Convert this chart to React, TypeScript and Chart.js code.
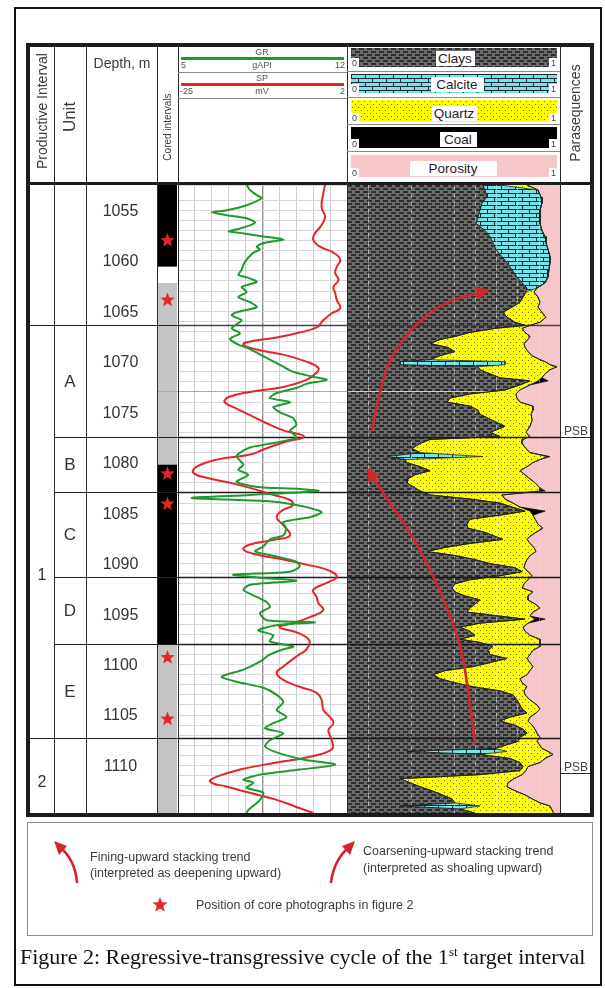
import React, { useEffect, useMemo, useRef } from 'react';
import { Chart, registerables } from 'chart.js';

Chart.register(...registerables);

// ---------------- data ----------------
const DEPTH_TOP = 1052.5;
const DEPTH_BASE = 1114.7;
const depthTicks = [1055, 1060, 1065, 1070, 1075, 1080, 1085, 1090, 1095, 1100, 1105, 1110];

const productiveIntervals = [
  { name: '', top: 1052.5, base: 1066.4, labelAt: 1059.0 },
  { name: '1', top: 1066.4, base: 1107.3, labelAt: 1091.1 },
  { name: '2', top: 1107.3, base: 1114.7, labelAt: 1111.6 },
];
const units = [
  { name: '', top: 1052.5, base: 1066.4 },
  { name: 'A', top: 1066.4, base: 1077.5 },
  { name: 'B', top: 1077.5, base: 1082.9 },
  { name: 'C', top: 1082.9, base: 1091.3 },
  { name: 'D', top: 1091.3, base: 1098.0 },
  { name: 'E', top: 1098.0, base: 1107.3 },
  { name: '', top: 1107.3, base: 1114.7 },
];
const subUnitLines = [1072.9];
const coredIntervals = [
  { top: 1052.5, base: 1060.6, kind: 'core' },
  { top: 1060.6, base: 1062.2, kind: 'none' },
  { top: 1062.2, base: 1080.2, kind: 'log' },
  { top: 1080.2, base: 1098.0, kind: 'core' },
  { top: 1098.0, base: 1114.7, kind: 'log' },
];
const corePhotoDepths = [1058.0, 1063.9, 1081.1, 1084.1, 1099.3, 1105.4];
const psbDepths = [1077.5, 1110.7];

// GR and SP, read in track grid divisions (0 = left edge, 10 = right edge)
const grDepth = [
  1052.5, 1053.0, 1053.5, 1053.8, 1054.5, 1055.0, 1055.2, 1055.5, 1055.8, 1056.2,
  1056.5, 1056.8, 1057.1, 1057.3, 1057.6, 1057.9, 1058.2, 1058.6, 1058.9, 1059.2,
  1059.9, 1060.4, 1060.9, 1061.4, 1061.7, 1062.1, 1062.6, 1063.1, 1063.6, 1064.1,
  1064.6, 1065.1, 1065.4, 1065.9, 1066.3, 1066.7, 1067.2, 1067.6, 1067.8, 1068.3,
  1068.6, 1069.1, 1069.8, 1070.5, 1071.0, 1071.5, 1071.8, 1072.2, 1072.6, 1073.1,
  1073.6, 1074.0, 1074.5, 1075.1, 1075.6, 1076.3, 1076.8, 1077.5, 1078.0, 1078.5,
  1079.0, 1079.4, 1080.2, 1080.7, 1081.2, 1081.9, 1082.4, 1082.6, 1082.8, 1083.2,
  1083.5, 1083.8, 1084.2, 1084.9, 1085.4, 1085.9, 1086.5, 1087.2, 1087.6, 1088.3,
  1088.8, 1089.3, 1089.8, 1090.3, 1090.8, 1091.1, 1091.4, 1091.7, 1092.1, 1092.6,
  1093.3, 1093.8, 1094.3, 1094.9, 1095.6, 1095.8, 1096.1, 1096.6, 1097.1, 1097.7,
  1098.2, 1098.5, 1099.0, 1099.7, 1100.5, 1101.2, 1101.7, 1102.3, 1103.0, 1103.7,
  1104.5, 1105.2, 1105.8, 1106.3, 1106.8, 1107.5, 1108.1, 1108.7, 1109.4, 1109.9,
  1110.4, 1110.9, 1111.4, 1111.7, 1112.2, 1112.7, 1113.4, 1113.7, 1114.4, 1114.7,
];
const gr = [
  4.06, 4.26, 4.66, 4.95, 4.06, 2.88, 2.0, 2.9, 4.06, 4.56,
  4.26, 3.67, 3.0, 3.9, 5.05, 6.23, 5.2, 4.66, 4.85, 4.46,
  4.06, 3.87, 3.77, 3.57, 4.16, 4.66, 3.77, 4.06, 3.57, 4.26,
  4.66, 3.47, 3.18, 3.77, 3.47, 3.18, 3.67, 3.18, 3.08, 3.57,
  4.06, 4.66, 5.44, 6.23, 6.82, 8.0, 8.8, 7.6, 7.0, 5.84,
  5.44, 6.63, 5.64, 6.13, 6.82, 7.0, 6.63, 7.0, 5.84, 4.26,
  3.67, 3.47, 3.87, 3.57, 4.16, 3.47, 4.66, 7.22, 8.3, 4.26,
  0.81, 5.24, 7.0, 8.5, 7.8, 6.23, 6.4, 6.23, 5.44, 5.05,
  4.56, 5.84, 7.0, 7.2, 6.63, 3.27, 4.85, 7.0, 4.26, 3.87,
  4.66, 5.24, 5.44, 4.85, 5.24, 8.1, 5.84, 4.75, 5.64, 5.44,
  6.82, 6.2, 5.44, 4.85, 3.87, 2.58, 3.47, 5.05, 5.84, 6.23,
  5.84, 6.43, 5.64, 5.15, 6.23, 5.44, 5.15, 5.84, 7.42, 9.3,
  7.2, 4.85, 3.87, 4.46, 4.06, 5.05, 4.85, 4.66, 4.16, 4.06,
];
const spDepth = [
  1052.5, 1053.3, 1054.7, 1055.7, 1056.7, 1057.3, 1057.9, 1058.6, 1059.2, 1059.9,
  1060.6, 1061.2, 1061.9, 1062.6, 1063.2, 1063.9, 1064.7, 1065.2, 1065.9, 1066.6,
  1067.1, 1067.6, 1068.0, 1068.3, 1068.8, 1069.3, 1070.0, 1070.6, 1071.1, 1071.8,
  1072.5, 1073.0, 1073.5, 1074.0, 1074.6, 1075.3, 1076.1, 1076.8, 1077.4, 1078.0,
  1078.7, 1079.2, 1079.7, 1080.4, 1081.0, 1081.5, 1082.0, 1082.5, 1083.2, 1083.7,
  1084.2, 1084.7, 1085.4, 1086.2, 1087.2, 1087.6, 1088.1, 1088.6, 1089.1, 1089.6,
  1090.1, 1090.6, 1091.3, 1091.9, 1092.6, 1093.3, 1093.9, 1094.6, 1095.3, 1095.9,
  1096.3, 1096.8, 1097.3, 1097.8, 1098.5, 1099.2, 1100.2, 1100.8, 1101.5, 1102.2,
  1102.8, 1103.5, 1104.5, 1105.2, 1105.8, 1106.5, 1107.5, 1108.4, 1109.2, 1109.7,
  1110.4, 1111.1, 1111.6, 1112.1, 1112.7, 1113.4, 1114.1, 1114.7,
];
const sp = [
  8.7, 8.6, 8.5, 8.7, 8.4, 8.1, 8.0, 8.4, 9.2, 9.6,
  9.4, 9.3, 9.5, 9.2, 9.3, 9.4, 9.6, 9.1, 8.6, 8.2,
  7.2, 5.84, 4.26, 3.87, 4.66, 6.23, 7.6, 8.3, 8.2, 7.6,
  6.23, 4.26, 3.0, 2.76, 3.4, 4.26, 5.24, 6.23, 7.45, 6.23,
  5.05, 4.26, 2.29, 1.1, 0.9, 1.7, 3.08, 4.26, 5.64, 6.63,
  6.8, 6.2, 5.84, 6.23, 6.63, 5.84, 4.26, 3.87, 4.66, 6.23,
  7.6, 8.8, 9.4, 8.8, 8.0, 8.2, 8.3, 8.6, 7.8, 6.8,
  6.0, 7.0, 7.6, 7.8, 7.6, 7.0, 6.23, 5.84, 6.2, 7.2,
  8.2, 8.5, 8.6, 9.0, 9.2, 8.9, 9.1, 9.1, 7.6, 5.84,
  3.67, 2.3, 1.9, 2.9, 4.26, 5.84, 7.0, 8.0,
];

// Lithology volume fractions (porosity = remainder to 1)
const litDepth = [
  1052.5, 1053.0, 1053.7, 1054.3, 1055.0, 1055.7, 1056.3, 1057.0, 1057.6, 1058.2,
  1058.9, 1059.6, 1060.2, 1060.9, 1061.6, 1062.2, 1062.7, 1063.1, 1063.6, 1064.1,
  1064.6, 1065.1, 1065.6, 1066.1, 1066.4, 1066.7, 1067.1, 1067.5, 1067.8, 1068.2,
  1068.6, 1069.0, 1069.4, 1069.8, 1070.0, 1070.3, 1070.5, 1070.8, 1071.2, 1071.6,
  1071.9, 1072.3, 1072.8, 1073.2, 1073.6, 1074.0, 1074.4, 1074.8, 1075.2, 1075.8,
  1076.4, 1077.0, 1077.4, 1077.7, 1078.1, 1078.6, 1079.0, 1079.4, 1079.7, 1080.0,
  1080.4, 1080.8, 1081.2, 1081.6, 1082.0, 1082.5, 1082.8, 1083.2, 1083.6, 1084.0,
  1084.4, 1084.8, 1085.2, 1085.6, 1086.1, 1086.5, 1086.9, 1087.3, 1087.6, 1088.0,
  1088.4, 1088.8, 1089.2, 1089.6, 1090.0, 1090.4, 1090.8, 1091.2, 1091.6, 1092.0,
  1092.4, 1092.8, 1093.2, 1093.6, 1094.0, 1094.4, 1094.8, 1095.2, 1095.5, 1095.9,
  1096.3, 1096.7, 1097.1, 1097.5, 1097.8, 1098.2, 1098.6, 1099.0, 1099.4, 1099.8,
  1100.2, 1100.6, 1101.0, 1101.4, 1101.8, 1102.2, 1102.6, 1103.0, 1103.5, 1104.0,
  1104.4, 1104.8, 1105.2, 1105.6, 1106.0, 1106.4, 1106.8, 1107.2, 1107.6, 1108.0,
  1108.3, 1108.6, 1108.9, 1109.3, 1109.7, 1110.1, 1110.5, 1110.9, 1111.3, 1111.7,
  1112.1, 1112.5, 1112.9, 1113.3, 1113.7, 1114.0, 1114.3, 1114.7,
];
const clay = [
  0.638, 0.648, 0.657, 0.634, 0.624, 0.615, 0.606, 0.648, 0.671, 0.685,
  0.700, 0.728, 0.751, 0.775, 0.798, 0.822, 0.845, 0.840, 0.826, 0.812,
  0.775, 0.732, 0.751, 0.789, 0.836, 0.695, 0.577, 0.507, 0.437, 0.390,
  0.474, 0.507, 0.437, 0.390, 0.249, 0.249, 0.615, 0.624, 0.671, 0.718,
  0.859, 0.812, 0.742, 0.577, 0.484, 0.469, 0.577, 0.615, 0.624, 0.681,
  0.742, 0.671, 0.718, 0.390, 0.343, 0.305, 0.343, 0.188, 0.272, 0.282,
  0.343, 0.390, 0.319, 0.286, 0.282, 0.319, 0.343, 0.390, 0.577, 0.718,
  0.775, 0.836, 0.718, 0.577, 0.563, 0.568, 0.648, 0.695, 0.732, 0.577,
  0.460, 0.376, 0.507, 0.601, 0.671, 0.789, 0.822, 0.718, 0.577, 0.507,
  0.493, 0.507, 0.554, 0.624, 0.601, 0.577, 0.563, 0.718, 0.836, 0.624,
  0.531, 0.577, 0.601, 0.531, 0.624, 0.685, 0.662, 0.671, 0.751, 0.671,
  0.592, 0.460, 0.404, 0.437, 0.507, 0.592, 0.718, 0.779, 0.798, 0.812,
  0.822, 0.845, 0.765, 0.718, 0.789, 0.826, 0.845, 0.812, 0.803, 0.742,
  0.695, 0.282, 0.624, 0.765, 0.812, 0.826, 0.812, 0.624, 0.249, 0.296,
  0.343, 0.399, 0.446, 0.493, 0.507, 0.249, 0.530, 0.600,
];
const calcite = [
  0.080, 0.249, 0.254, 0.281, 0.282, 0.291, 0.300, 0.267, 0.259, 0.249,
  0.244, 0.225, 0.202, 0.173, 0.146, 0.108, 0.047, 0, 0, 0,
  0, 0, 0, 0, 0, 0, 0, 0, 0, 0,
  0, 0, 0, 0, 0.493, 0.493, 0, 0, 0, 0,
  0, 0, 0, 0, 0, 0, 0, 0, 0, 0,
  0, 0, 0, 0, 0, 0, 0, 0.450, 0, 0,
  0, 0, 0, 0, 0, 0, 0, 0, 0, 0,
  0, 0, 0, 0, 0, 0, 0, 0, 0, 0,
  0, 0, 0, 0, 0, 0, 0, 0, 0, 0,
  0, 0, 0, 0, 0, 0, 0, 0, 0, 0,
  0, 0, 0, 0, 0, 0, 0, 0, 0, 0,
  0, 0, 0, 0, 0, 0, 0, 0, 0, 0,
  0, 0, 0, 0, 0, 0, 0, 0, 0, 0,
  0, 0.469, 0, 0, 0, 0, 0, 0, 0, 0,
  0, 0, 0, 0, 0, 0.375, 0, 0,
];
const quartz = [
  0.127, 0, 0, 0, 0, 0, 0, 0, 0, 0,
  0, 0, 0, 0, 0, 0, 0, 0.038, 0.071, 0.094,
  0.122, 0.183, 0.183, 0.117, 0.023, 0.127, 0.259, 0.352, 0.413, 0.441,
  0.362, 0.343, 0.432, 0.516, 0.188, 0.211, 0.371, 0.329, 0.259, 0.197,
  0.038, 0.047, 0.070, 0.216, 0.314, 0.343, 0.296, 0.258, 0.240, 0.188,
  0.117, 0.169, 0.141, 0.436, 0.479, 0.535, 0.516, 0.301, 0.634, 0.591,
  0.502, 0.422, 0.517, 0.573, 0.601, 0.587, 0.563, 0.338, 0.165, 0.061,
  0.037, 0.023, 0.155, 0.306, 0.334, 0.352, 0.239, 0.164, 0.113, 0.282,
  0.418, 0.511, 0.352, 0.244, 0.165, 0.042, 0.028, 0.151, 0.273, 0.324,
  0.329, 0.366, 0.296, 0.226, 0.282, 0.329, 0.310, 0.141, 0.047, 0.226,
  0.295, 0.259, 0.258, 0.375, 0.282, 0.221, 0.211, 0.188, 0.094, 0.188,
  0.281, 0.399, 0.441, 0.375, 0.315, 0.253, 0.113, 0.057, 0.061, 0.080,
  0.084, 0.042, 0.094, 0.132, 0.080, 0.057, 0.047, 0.094, 0.089, 0.164,
  0.220, 0.193, 0.343, 0.165, 0.094, 0.024, 0.028, 0.198, 0.535, 0.460,
  0.408, 0.390, 0.390, 0.376, 0.399, 0.329, 0.430, 0.370,
];
const coal = [
  0, 0, 0, 0, 0, 0, 0, 0, 0, 0,
  0, 0, 0, 0, 0, 0, 0, 0, 0, 0,
  0, 0, 0, 0, 0, 0, 0, 0, 0, 0,
  0, 0, 0, 0, 0, 0, 0, 0, 0, 0,
  0.047, 0, 0, 0, 0, 0, 0, 0, 0, 0,
  0, 0, 0, 0, 0, 0, 0, 0.014, 0, 0,
  0, 0, 0, 0, 0, 0, 0.024, 0, 0, 0,
  0, 0.071, 0, 0, 0, 0, 0, 0, 0, 0,
  0, 0, 0, 0, 0, 0, 0, 0, 0, 0,
  0, 0, 0, 0, 0, 0, 0, 0, 0.047, 0,
  0, 0, 0, 0, 0, 0, 0, 0, 0, 0,
  0, 0, 0, 0, 0, 0, 0, 0, 0, 0,
  0, 0, 0, 0, 0, 0, 0, 0, 0, 0,
  0, 0, 0, 0, 0, 0, 0, 0, 0, 0,
  0, 0, 0, 0, 0, 0, 0, 0,
];
const lithoGrid = [0.1, 0.3, 0.5, 0.6, 0.7, 0.8, 0.9];

// stacking-trend arrows in the lithology track (fraction, depth)
const finingArrowF = [0.601, 0.563, 0.531, 0.469, 0.376, 0.282, 0.169, 0.094];
const finingArrowD = [1107.75, 1101.5, 1097.85, 1094.3, 1089.9, 1086.4, 1083.0, 1080.5];
const coarseningArrowF = [0.117, 0.169, 0.249, 0.357, 0.484, 0.671];
const coarseningArrowD = [1076.8, 1071.1, 1068.1, 1065.6, 1063.9, 1062.9];

// ---------------- styling ----------------
const FONT = '"Liberation Sans", Arial, Helvetica, sans-serif';
const GR_COLOR = '#1f9a2e';
const SP_COLOR = '#e3262b';
const PORO_COLOR = '#f6c6ca';
const ARROW_COLOR = '#d3262c';
const STAR_COLOR = '#e3262b';

function makeTile(w: number, h: number, draw: (g: CanvasRenderingContext2D) => void) {
  const c = document.createElement('canvas');
  c.width = w;
  c.height = h;
  const g = c.getContext('2d') as CanvasRenderingContext2D;
  draw(g);
  return c;
}
function makeTiles() {
  const clayT = makeTile(8, 6, (g) => {
    g.fillStyle = '#6b6b6b';
    g.fillRect(0, 0, 8, 6);
    g.fillStyle = '#2e2e2e';
    g.fillRect(0, 0, 5, 2);
    g.fillRect(4, 3, 4, 2);
    g.fillRect(0, 3, 1, 2);
  });
  const calciteT = makeTile(14, 8, (g) => {
    g.fillStyle = '#74e3ea';
    g.fillRect(0, 0, 14, 8);
    g.fillStyle = '#1c2a38';
    g.fillRect(0, 0, 14, 1);
    g.fillRect(0, 4, 14, 1);
    g.fillRect(0, 0, 1, 4);
    g.fillRect(7, 4, 1, 4);
  });
  const quartzT = makeTile(6, 6, (g) => {
    g.fillStyle = '#ffff00';
    g.fillRect(0, 0, 6, 6);
    g.fillStyle = '#6d6d40';
    g.fillRect(1, 1, 1, 1);
    g.fillRect(4, 4, 1, 1);
  });
  return { clay: clayT, calcite: calciteT, quartz: quartzT };
}

function starPath(ctx: CanvasRenderingContext2D, cx: number, cy: number, R: number, r: number) {
  ctx.beginPath();
  for (let i = 0; i < 10; i++) {
    const ang = -Math.PI / 2 + (i * Math.PI) / 5;
    const rad = i % 2 ? r : R;
    const px = cx + rad * Math.cos(ang);
    const py = cy + rad * Math.sin(ang);
    if (i) ctx.lineTo(px, py);
    else ctx.moveTo(px, py);
  }
  ctx.closePath();
}

function hline(ctx: CanvasRenderingContext2D, x0: number, x1: number, y: number, color: string, w: number) {
  ctx.beginPath();
  ctx.strokeStyle = color;
  ctx.lineWidth = w;
  ctx.moveTo(x0, y);
  ctx.lineTo(x1, y);
  ctx.stroke();
}

function curvedArrow(ctx: CanvasRenderingContext2D, pts: { x: number; y: number }[], color: string, width: number, head: number) {
  const n = pts.length;
  const tip = pts[n - 1];
  const prev = pts[n - 2];
  const ang = Math.atan2(tip.y - prev.y, tip.x - prev.x);
  const end = { x: tip.x - Math.cos(ang) * head * 0.8, y: tip.y - Math.sin(ang) * head * 0.8 };
  const p = pts.slice(0, n - 1).concat([end]);
  ctx.save();
  ctx.beginPath();
  ctx.moveTo(p[0].x, p[0].y);
  for (let i = 1; i < p.length - 1; i++) {
    const mx = (p[i].x + p[i + 1].x) / 2;
    const my = (p[i].y + p[i + 1].y) / 2;
    ctx.quadraticCurveTo(p[i].x, p[i].y, mx, my);
  }
  ctx.lineTo(end.x, end.y);
  ctx.strokeStyle = color;
  ctx.lineWidth = width;
  ctx.lineCap = 'round';
  ctx.stroke();
  const bx = tip.x - head * Math.cos(ang);
  const by = tip.y - head * Math.sin(ang);
  const hw = head * 0.5;
  ctx.beginPath();
  ctx.moveTo(tip.x, tip.y);
  ctx.lineTo(bx + hw * Math.sin(ang), by - hw * Math.cos(ang));
  ctx.lineTo(bx - hw * Math.sin(ang), by + hw * Math.cos(ang));
  ctx.closePath();
  ctx.fillStyle = color;
  ctx.fill();
  ctx.restore();
}

// left columns (canvas-relative x)
const COL = { prod: 0, unit: 24, depth: 56, cored: 127, track: 148 };

const leftColumnsPlugin = {
  id: 'leftColumns',
  beforeDatasetsDraw(chart: any) {
    const { ctx, chartArea: a, scales } = chart;
    const y = scales.y;
    const Y = (d: number) => y.getPixelForValue(d);
    ctx.save();
    coredIntervals.forEach((c) => {
      ctx.fillStyle = c.kind === 'core' ? '#000000' : c.kind === 'log' ? '#c4c4c4' : '#ffffff';
      ctx.fillRect(COL.cored + 1, Y(c.top), COL.track - COL.cored - 2, Y(c.base) - Y(c.top));
    });
    subUnitLines.forEach((d) => hline(ctx, COL.cored, a.right, Math.round(Y(d)) + 0.5, '#a8a8a8', 1));
    const prodTops = productiveIntervals.slice(1).map((p) => p.top);
    units.slice(1).forEach((u) => {
      const yy = Math.round(Y(u.top)) + 0.5;
      const isProd = prodTops.indexOf(u.top) >= 0;
      hline(ctx, isProd ? COL.prod : COL.unit, COL.track, yy, '#1e1e1e', 1);
      hline(ctx, COL.track, a.right, yy, u.top === 1066.4 ? '#4b3a62' : '#1e1e1e', 1.5);
    });
    ctx.fillStyle = '#333';
    ctx.textAlign = 'center';
    ctx.textBaseline = 'middle';
    ctx.font = `16px ${FONT}`;
    depthTicks.forEach((d) => ctx.fillText(String(d), 90.5, Y(d) + 1));
    ctx.font = `17px ${FONT}`;
    units.forEach((u) => {
      if (u.name) ctx.fillText(u.name, 40, (Y(u.top) + Y(u.base)) / 2 + 1);
    });
    ctx.font = `16px ${FONT}`;
    productiveIntervals.forEach((p) => {
      if (p.name) ctx.fillText(p.name, 12, Y(p.labelAt) + 1);
    });
    ctx.fillStyle = STAR_COLOR;
    corePhotoDepths.forEach((d) => {
      starPath(ctx, 137.5, Y(d), 7.5, 3.2);
      ctx.fill();
    });
    ctx.restore();
  },
};

function makeLithoPlugin(tiles: any) {
  return {
    id: 'lithoFill',
    beforeDatasetsDraw(chart: any) {
      const { ctx, chartArea: a, scales } = chart;
      const x = scales.x;
      const y = scales.y;
      const pts = [0, 1, 2, 3].map((i) => chart.getDatasetMeta(i).data.map((p: any) => ({ x: p.x, y: p.y })));
      ctx.save();
      ctx.beginPath();
      ctx.rect(a.left, a.top, a.right - a.left, a.bottom - a.top);
      ctx.clip();
      ctx.fillStyle = PORO_COLOR;
      ctx.fillRect(a.left, a.top, a.right - a.left, a.bottom - a.top);
      const band = (L: any[] | null, R: any[], fill: any) => {
        ctx.beginPath();
        if (L) {
          ctx.moveTo(L[0].x, L[0].y);
          R.forEach((p) => ctx.lineTo(p.x, p.y));
          for (let i = L.length - 1; i >= 0; i--) ctx.lineTo(L[i].x, L[i].y);
        } else {
          ctx.moveTo(a.left, R[0].y);
          R.forEach((p) => ctx.lineTo(p.x, p.y));
          ctx.lineTo(a.left, R[R.length - 1].y);
        }
        ctx.closePath();
        ctx.fillStyle = fill;
        ctx.fill();
      };
      band(null, pts[0], ctx.createPattern(tiles.clay, 'repeat'));
      band(pts[0], pts[1], ctx.createPattern(tiles.calcite, 'repeat'));
      band(pts[1], pts[2], ctx.createPattern(tiles.quartz, 'repeat'));
      band(pts[2], pts[3], '#000000');
      ctx.setLineDash([5, 3]);
      lithoGrid.forEach((f) => {
        const xx = Math.round(x.getPixelForValue(f)) + 0.5;
        ctx.beginPath();
        ctx.strokeStyle = 'rgba(235,235,235,0.55)';
        ctx.lineWidth = 1;
        ctx.moveTo(xx, a.top);
        ctx.lineTo(xx, a.bottom);
        ctx.stroke();
      });
      ctx.setLineDash([]);
      subUnitLines.forEach((d) => hline(ctx, a.left, a.right, Math.round(y.getPixelForValue(d)) + 0.5, 'rgba(215,215,215,0.9)', 1));
      units.slice(1).forEach((u) => {
        const yy = Math.round(y.getPixelForValue(u.top)) + 0.5;
        hline(ctx, a.left, a.right, yy, u.top === 1066.4 ? '#4b3a62' : '#1a1a1a', 1.5);
      });
      ctx.restore();
    },
    afterDatasetsDraw(chart: any) {
      const { ctx, chartArea: a, scales } = chart;
      const x = scales.x;
      const y = scales.y;
      const toPx = (F: number[], D: number[]) => F.map((f, i) => ({ x: x.getPixelForValue(f), y: y.getPixelForValue(D[i]) }));
      curvedArrow(ctx, toPx(finingArrowF, finingArrowD), ARROW_COLOR, 2.6, 14);
      curvedArrow(ctx, toPx(coarseningArrowF, coarseningArrowD), ARROW_COLOR, 2.6, 14);
      ctx.save();
      ctx.font = `12px ${FONT}`;
      ctx.fillStyle = '#444';
      ctx.textAlign = 'right';
      ctx.textBaseline = 'alphabetic';
      psbDepths.forEach((d) => {
        const yy = Math.round(y.getPixelForValue(d)) + 0.5;
        hline(ctx, a.right, chart.width, yy, '#2a2a2a', 1);
        ctx.fillText('PSB', chart.width - 2, yy - 3);
      });
      ctx.restore();
    },
  };
}

// ---------------- small layout helpers ----------------
const abs = (s: any) => ({ position: 'absolute', ...s });
function Rule({ x, y, w, h, c }: any) {
  return <div style={abs({ left: x, top: y, width: w, height: h, background: c })} />;
}
function Txt({ x, y, size, color = '#333', anchor = 'center', rotate = false, family = FONT, children }: any) {
  const tx = anchor === 'center' ? '-50%' : anchor === 'right' ? '-100%' : '0';
  return (
    <div
      style={abs({
        left: x,
        top: y,
        fontFamily: family,
        fontSize: size,
        lineHeight: 1,
        color,
        whiteSpace: 'nowrap',
        transform: `translate(${tx}, -50%)${rotate ? ' rotate(-90deg)' : ''}`,
        transformOrigin: rotate ? 'center center' : undefined,
      })}
    >
      {children}
    </div>
  );
}

const lithoLegend = [
  { name: 'Clays', top: 48, h: 19, key: 'clay', cx: 455, w: 39 },
  { name: 'Calcite', top: 74, h: 19, key: 'calcite', cx: 457, w: 53 },
  { name: 'Quartz', top: 100, h: 22, key: 'quartz', cx: 454, w: 45 },
  { name: 'Coal', top: 127, h: 21, key: 'coal', cx: 458, w: 37 },
  { name: 'Porosity', top: 155, h: 22, key: 'poro', cx: 453, w: 87 },
];

export default function App() {
  const leftRef = useRef<HTMLCanvasElement>(null);
  const rightRef = useRef<HTMLCanvasElement>(null);
  const tiles = useMemo(() => makeTiles(), []);
  const bgs = useMemo(
    () => ({
      clay: `url(${tiles.clay.toDataURL()})`,
      calcite: `url(${tiles.calcite.toDataURL()})`,
      quartz: `url(${tiles.quartz.toDataURL()})`,
      coal: '#000',
      poro: PORO_COLOR,
    }),
    [tiles]
  );

  useEffect(() => {
    const yScale = { type: 'linear', reverse: true, min: DEPTH_TOP, max: DEPTH_BASE };
    const logChart = new Chart(leftRef.current as HTMLCanvasElement, {
      type: 'scatter',
      data: {
        datasets: [
          {
            label: 'GR',
            data: grDepth.map((d, i) => ({ x: gr[i], y: d })),
            showLine: true,
            borderColor: GR_COLOR,
            borderWidth: 2,
            pointRadius: 0,
            tension: 0.25,
          },
          {
            label: 'SP',
            data: spDepth.map((d, i) => ({ x: sp[i], y: d })),
            showLine: true,
            borderColor: SP_COLOR,
            borderWidth: 2,
            pointRadius: 0,
            tension: 0.45,
          },
        ],
      },
      options: {
        responsive: false,
        animation: false,
        devicePixelRatio: 1,
        layout: { padding: { left: COL.track, right: 0, top: 0, bottom: 0 } },
        plugins: { legend: { display: false }, tooltip: { enabled: false } },
        scales: {
          x: {
            type: 'linear',
            min: 0,
            max: 10,
            ticks: { display: false, stepSize: 1 },
            grid: {
              drawTicks: false,
              color: (c: any) => (c.tick && c.tick.value === 5 ? '#8e8e8e' : '#cdcdcd'),
              lineWidth: (c: any) => (c.tick && c.tick.value === 5 ? 1.4 : 1),
            },
            border: { display: false },
          },
          y: {
            ...yScale,
            ticks: { display: false, stepSize: 1 },
            grid: { drawTicks: false, color: '#d8d8d8' },
            border: { display: false },
          },
        },
      } as any,
      plugins: [leftColumnsPlugin],
    } as any);

    const cum = (i: number, n: number) => {
      let s = clay[i];
      if (n > 1) s += calcite[i];
      if (n > 2) s += quartz[i];
      if (n > 3) s += coal[i];
      return s;
    };
    const boundary = (n: number, color: string, w: number) => ({
      label: 'b' + n,
      data: litDepth.map((d, i) => ({ x: cum(i, n), y: d })),
      showLine: true,
      borderColor: color,
      borderWidth: w,
      pointRadius: 0,
      tension: 0,
    });
    const lithoChart = new Chart(rightRef.current as HTMLCanvasElement, {
      type: 'scatter',
      data: {
        datasets: [
          boundary(1, '#222222', 1),
          boundary(2, '#222222', 0.8),
          boundary(3, '#2a2a2a', 1),
          boundary(4, '#111111', 0.8),
        ],
      },
      options: {
        responsive: false,
        animation: false,
        devicePixelRatio: 1,
        layout: { padding: { left: 0, right: 30, top: 0, bottom: 0 } },
        plugins: { legend: { display: false }, tooltip: { enabled: false } },
        scales: {
          x: { type: 'linear', min: 0, max: 1, display: false },
          y: { ...yScale, display: false },
        },
      } as any,
      plugins: [makeLithoPlugin(tiles)],
    } as any);

    return () => {
      logChart.destroy();
      lithoChart.destroy();
    };
  }, [tiles]);

  const vLines = [54, 86, 157, 178, 347, 560];

  return (
    <div style={abs({ left: 0, top: 0, width: 605, height: 988, background: '#fff', overflow: 'hidden', fontFamily: FONT })}>
      <div style={abs({ left: 14, top: 7, width: 588, height: 979, border: '2px solid #111', boxSizing: 'border-box' })} />

      <canvas ref={leftRef} width={317} height={628} style={abs({ left: 30, top: 185, width: 317, height: 628 })} />
      <canvas ref={rightRef} width={243} height={628} style={abs({ left: 347, top: 185, width: 243, height: 628 })} />

      <div style={abs({ left: 26, top: 43, width: 568, height: 774, border: '4px solid #1c1c1c', boxSizing: 'border-box' })} />
      <Rule x={30} y={182} w={560} h={3} c="#1c1c1c" />
      {vLines.map((x) => (
        <Rule key={x} x={x} y={47} w={1} h={766} c="#2b2b2b" />
      ))}

      <Txt x={42} y={111} size={14} rotate color="#3a3a3a">Productive Interval</Txt>
      <Txt x={69} y={117} size={17} rotate color="#3a3a3a">Unit</Txt>
      <Txt x={122} y={63} size={14} color="#3a3a3a">Depth, m</Txt>
      <Txt x={168} y={127} size={10} rotate color="#3a3a3a">Cored intervals</Txt>

      <Txt x={262} y={52} size={9} color="#555">GR</Txt>
      <Rule x={181} y={57} w={163} h={2.5} c={GR_COLOR} />
      <Txt x={181} y={65} size={9} anchor="left" color="#555">5</Txt>
      <Txt x={262} y={65} size={9} color="#555">gAPI</Txt>
      <Txt x={345} y={65} size={9} anchor="right" color="#555">12</Txt>
      <Rule x={178} y={72} w={169} h={1} c="#8a8a8a" />
      <Txt x={262} y={78} size={9} color="#555">SP</Txt>
      <Rule x={181} y={83} w={163} h={2.5} c={SP_COLOR} />
      <Txt x={180} y={91} size={9} anchor="left" color="#555">-25</Txt>
      <Txt x={262} y={91} size={9} color="#555">mV</Txt>
      <Txt x={345} y={91} size={9} anchor="right" color="#555">2</Txt>
      <Rule x={178} y={98} w={169} h={1} c="#8a8a8a" />

      {lithoLegend.map((b) => (
        <React.Fragment key={b.name}>
          <div style={abs({ left: 351, top: b.top, width: 206, height: b.h, background: (bgs as any)[b.key] })} />
          <div style={abs({ left: 351, top: b.top + b.h - 9, width: 8, height: 9, background: '#fff' })} />
          <div style={abs({ left: 549, top: b.top + b.h - 9, width: 8, height: 9, background: '#fff' })} />
          <Txt x={352} y={b.top + b.h - 4} size={9} anchor="left" color="#444">0</Txt>
          <Txt x={556} y={b.top + b.h - 4} size={9} anchor="right" color="#444">1</Txt>
          <div
            style={abs({
              left: b.cx - b.w / 2,
              top: b.top + b.h - 16,
              width: b.w,
              height: 15,
              background: '#fff',
              fontSize: 13.5,
              lineHeight: '15px',
              textAlign: 'center',
              color: '#222',
            })}
          >
            {b.name}
          </div>
        </React.Fragment>
      ))}
      {[71, 97, 124, 151].map((y) => (
        <Rule key={y} x={347} y={y} w={213} h={1} c="#8a8a8a" />
      ))}
      <Txt x={575} y={113} size={14} rotate color="#3a3a3a">Parasequences</Txt>

      <div style={abs({ left: 27, top: 822, width: 566, height: 114, border: '1.5px solid #8c8c8c', boxSizing: 'border-box' })} />
      <svg style={abs({ left: 0, top: 0 })} width={605} height={988}>
        <path d="M 77 882 Q 75 860 60 847" stroke={ARROW_COLOR} strokeWidth={2.6} fill="none" strokeLinecap="round" />
        <polygon points="54,841 67,846 59,855" fill={ARROW_COLOR} />
        <path d="M 331 882 Q 334 860 349 847" stroke={ARROW_COLOR} strokeWidth={2.6} fill="none" strokeLinecap="round" />
        <polygon points="355,841 350,855 342,846" fill={ARROW_COLOR} />
        <polygon
          points={Array.from({ length: 10 }, (_, i) => {
            const ang = -Math.PI / 2 + (i * Math.PI) / 5;
            const r = i % 2 ? 3.4 : 8;
            return `${(160 + r * Math.cos(ang)).toFixed(2)},${(905 + r * Math.sin(ang)).toFixed(2)}`;
          }).join(' ')}
          fill={STAR_COLOR}
        />
      </svg>
      <Txt x={90} y={857} size={12.5} anchor="left" color="#3c3c3c">Fining-upward stacking trend</Txt>
      <Txt x={90} y={873} size={12.5} anchor="left" color="#3c3c3c">(interpreted as deepening upward)</Txt>
      <Txt x={363} y={851} size={12.5} anchor="left" color="#3c3c3c">Coarsening-upward stacking trend</Txt>
      <Txt x={363} y={868} size={12.5} anchor="left" color="#3c3c3c">(interpreted as shoaling upward)</Txt>
      <Txt x={196} y={905} size={12.5} anchor="left" color="#3c3c3c">Position of core photographs in figure 2</Txt>

      <div style={abs({ left: 20, top: 944, fontFamily: '"Liberation Serif", "Times New Roman", serif', fontSize: 22, lineHeight: '26px', color: '#111', whiteSpace: 'nowrap' })}>
        Figure 2: Regressive-transgressive cycle of the 1<span style={{ fontSize: 13, position: 'relative', top: -8 }}>st</span> target interval
      </div>
    </div>
  );
}
